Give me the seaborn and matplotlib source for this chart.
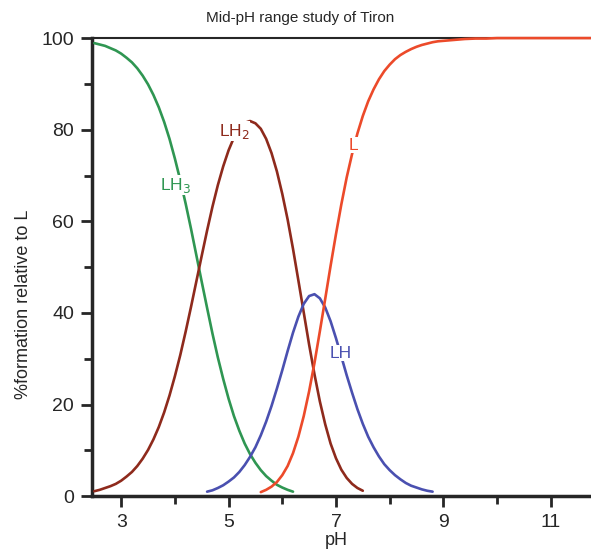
import pandas as pd
import matplotlib.pyplot as plt
import seaborn as sns
from matplotlib.ticker import MultipleLocator

# pH grid and % formation for each species
ph_lh3 = [2.5, 2.6, 2.7, 2.8, 2.9, 3.0, 3.1, 3.2, 3.3, 3.4, 3.5, 3.6, 3.7, 3.8, 3.9,
          4.0, 4.1, 4.2, 4.3, 4.4, 4.5, 4.6, 4.7, 4.8, 4.9, 5.0, 5.1, 5.2, 5.3, 5.4,
          5.5, 5.6, 5.7, 5.8, 5.9, 6.0, 6.1, 6.2]
lh3 = [98.9, 98.6, 98.3, 97.8, 97.3, 96.6, 95.7, 94.7, 93.4, 91.8, 89.9, 87.6, 84.9,
       81.7, 78.0, 73.7, 69.0, 63.9, 58.4, 52.6, 46.8, 41.1, 35.5, 30.3, 25.6, 21.3,
       17.5, 14.3, 11.5, 9.2, 7.3, 5.7, 4.4, 3.4, 2.5, 1.9, 1.4, 1.0]

ph_lh2 = [2.5, 2.6, 2.7, 2.8, 2.9, 3.0, 3.1, 3.2, 3.3, 3.4, 3.5, 3.6, 3.7, 3.8, 3.9,
          4.0, 4.1, 4.2, 4.3, 4.4, 4.5, 4.6, 4.7, 4.8, 4.9, 5.0, 5.1, 5.2, 5.3, 5.4,
          5.5, 5.6, 5.7, 5.8, 5.9, 6.0, 6.1, 6.2, 6.3, 6.4, 6.5, 6.6, 6.7, 6.8, 6.9,
          7.0, 7.1, 7.2, 7.3, 7.4, 7.5]
lh2 = [1.1, 1.4, 1.8, 2.2, 2.7, 3.4, 4.3, 5.3, 6.6, 8.2, 10.1, 12.4, 15.1, 18.3, 22.0,
       26.2, 30.8, 35.9, 41.3, 46.9, 52.5, 58.0, 63.2, 67.9, 72.0, 75.5, 78.3, 80.3,
       81.5, 81.9, 81.4, 80.2, 78.0, 74.9, 70.9, 66.0, 60.4, 54.0, 47.1, 40.1, 33.1,
       26.6, 20.7, 15.7, 11.5, 8.3, 5.8, 4.0, 2.7, 1.8, 1.2]

ph_lh = [4.6, 4.7, 4.8, 4.9, 5.0, 5.1, 5.2, 5.3, 5.4, 5.5, 5.6, 5.7, 5.8, 5.9, 6.0,
         6.1, 6.2, 6.3, 6.4, 6.5, 6.6, 6.7, 6.8, 6.9, 7.0, 7.1, 7.2, 7.3, 7.4, 7.5,
         7.6, 7.7, 7.8, 7.9, 8.0, 8.1, 8.2, 8.3, 8.4, 8.5, 8.6, 8.7, 8.8]
lh = [1.0, 1.3, 1.8, 2.4, 3.2, 4.1, 5.3, 6.8, 8.6, 10.7, 13.3, 16.3, 19.7, 23.5, 27.5,
      31.7, 35.7, 39.2, 42.0, 43.7, 44.1, 43.2, 41.2, 38.2, 34.5, 30.5, 26.4, 22.6,
      19.0, 15.8, 13.0, 10.7, 8.7, 7.0, 5.7, 4.6, 3.7, 2.9, 2.3, 1.9, 1.5, 1.2, 1.0]

ph_l = [5.6, 5.7, 5.8, 5.9, 6.0, 6.1, 6.2, 6.3, 6.4, 6.5, 6.6, 6.7, 6.8, 6.9, 7.0,
        7.1, 7.2, 7.3, 7.4, 7.5, 7.6, 7.7, 7.8, 7.9, 8.0, 8.1, 8.2, 8.3, 8.4, 8.5,
        8.6, 8.7, 8.8, 8.9, 9.0, 9.2, 9.4, 9.6, 9.8, 10.0, 11.0, 12.0]
l_free = [0.9, 1.4, 2.1, 3.1, 4.6, 6.6, 9.4, 13.0, 17.5, 22.9, 29.1, 36.0, 43.1, 50.3,
          57.2, 63.7, 69.6, 74.7, 79.2, 83.0, 86.2, 88.8, 91.0, 92.8, 94.2, 95.4, 96.3,
          97.0, 97.6, 98.1, 98.5, 98.8, 99.1, 99.3, 99.4, 99.6, 99.8, 99.9, 99.9, 100.0,
          100.0, 100.0]

species = ["LH3", "LH2", "LH", "L"]
colors = {"LH3": "#2f9652", "LH2": "#8e2a1c", "LH": "#4a50b0", "L": "#ec4a2a"}

df = pd.concat([
    pd.DataFrame({"pH": ph_lh3, "pct": lh3, "species": "LH3"}),
    pd.DataFrame({"pH": ph_lh2, "pct": lh2, "species": "LH2"}),
    pd.DataFrame({"pH": ph_lh, "pct": lh, "species": "LH"}),
    pd.DataFrame({"pH": ph_l, "pct": l_free, "species": "L"}),
])

sns.set_style("ticks")
plt.rcParams["font.family"] = ["Liberation Sans", "DejaVu Sans"]

fig = plt.figure(figsize=(5.91, 5.52), dpi=100)
ax = fig.add_axes([0.156, 0.101, 0.844, 0.830])

sns.lineplot(data=df, x="pH", y="pct", hue="species", hue_order=species,
             palette=colors, sort=False, estimator=None, legend=False,
             linewidth=1.9, ax=ax, zorder=3, clip_on=False)

ax.set_xlim(2.46, 11.75)
ax.set_ylim(0, 100)
ax.set_xticks([3, 5, 7, 9, 11])
ax.xaxis.set_minor_locator(MultipleLocator(1))
ax.yaxis.set_major_locator(MultipleLocator(20))
ax.yaxis.set_minor_locator(MultipleLocator(10))

ax.tick_params(which="major", length=8, width=2, labelsize=14, direction="out", pad=5)
ax.tick_params(which="minor", length=6, width=2, direction="out")
ax.spines["right"].set_visible(False)
ax.spines["left"].set_linewidth(2.5)
ax.spines["bottom"].set_linewidth(2.5)
ax.spines["top"].set_linewidth(1.5)

ax.set_xlabel("pH", fontsize=13)
ax.xaxis.set_label_coords(0.489, -0.097)
ax.xaxis.label.set_va("center")
ax.set_ylabel("%formation relative to L", fontsize=13)
ax.yaxis.set_label_coords(-0.137, 0.42)
ax.yaxis.label.set_va("center")
fig.text(0.508, 0.967, "Mid-pH range study of Tiron", ha="center", va="center", fontsize=11)

box = dict(facecolor="white", edgecolor="none", pad=0.5)
ax.text(4.02, 67.9, "LH$_3$", color=colors["LH3"], fontsize=12.5, ha="center", va="center", bbox=box, zorder=4)
ax.text(5.10, 79.7, "LH$_2$", color=colors["LH2"], fontsize=12.5, ha="center", va="center", bbox=box, zorder=4)
ax.text(7.08, 31.2, "LH", color=colors["LH"], fontsize=12.5, ha="center", va="center", bbox=box, zorder=4)
ax.text(7.32, 76.6, "L", color=colors["L"], fontsize=12.5, ha="center", va="center", bbox=box, zorder=4)

fig.savefig("out.png", dpi=100)
